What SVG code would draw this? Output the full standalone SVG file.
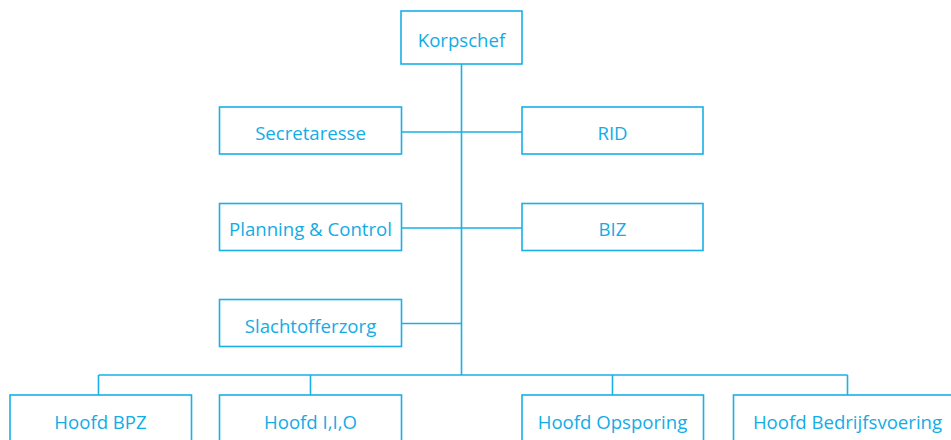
<svg xmlns="http://www.w3.org/2000/svg" width="951" height="440" viewBox="0 0 951 440">
<style>
.box{fill:#fff;stroke:#1ab0e8;stroke-width:1.6}
.ln{fill:none;stroke:#1ab0e8;stroke-width:1.6}
text{font-family:"Open Sans","Noto Sans",sans-serif;font-size:18.6px;fill:#12ace6;text-anchor:middle;dominant-baseline:central}
</style>
<rect width="951" height="440" fill="#fff"/>
<g id="connectors">
<path class="ln" d="M461.5 64V375M401.5 132H522M401.5 228H522M401.5 323.5H461.5M98.5 375H847.5M98.5 375V395M310.5 375V395M612.5 375V395M847.5 375V395"/>
</g>
<g id="korpschef"><rect class="box" x="401" y="11" width="121" height="53"/><text x="461.5" y="39">Korpschef</text></g>
<g id="secretaresse"><rect class="box" x="219.5" y="107" width="182" height="47"/><text x="310.5" y="132">Secretaresse</text></g>
<g id="rid"><rect class="box" x="522" y="107" width="181" height="47"/><text x="612.5" y="132">RID</text></g>
<g id="planning"><rect class="box" x="219.5" y="203.5" width="182" height="47"/><text x="310.5" y="228.5">Planning &amp; Control</text></g>
<g id="biz"><rect class="box" x="522" y="203.5" width="181" height="47"/><text x="612.5" y="228.5">BIZ</text></g>
<g id="slachtofferzorg"><rect class="box" x="219.5" y="299.5" width="182" height="47"/><text x="310.5" y="325">Slachtofferzorg</text></g>
<g id="bpz"><rect class="box" x="10" y="395" width="181.5" height="60"/><text x="100.5" y="421.5">Hoofd BPZ</text></g>
<g id="iio"><rect class="box" x="219.5" y="395" width="182" height="60"/><text x="310.5" y="421.5">Hoofd I,I,O</text></g>
<g id="opsporing"><rect class="box" x="522" y="395" width="181.5" height="60"/><text x="612.5" y="421.5">Hoofd Opsporing</text></g>
<g id="bedrijfsvoering"><rect class="box" x="733.5" y="395" width="229" height="60"/><text x="847.5" y="421.5">Hoofd Bedrijfsvoering</text></g>
</svg>
